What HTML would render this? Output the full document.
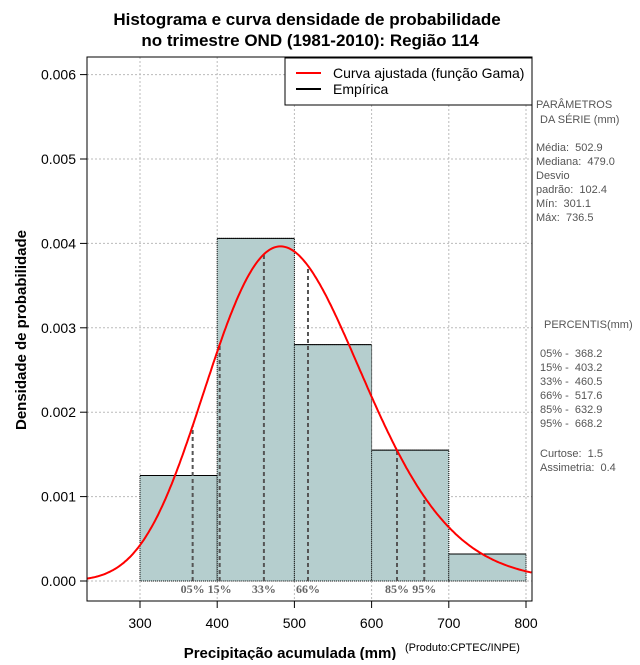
<!DOCTYPE html>
<html><head><meta charset="utf-8"><style>
body{margin:0;background:#fff;width:640px;height:660px;overflow:hidden}
svg{font-family:"Liberation Sans",sans-serif}
.pre text{white-space:pre}
</style></head><body>
<svg id="chart" width="640" height="660" viewBox="0 0 640 660" xmlns="http://www.w3.org/2000/svg">
<text x="307" y="25" text-anchor="middle" font-size="17" font-weight="bold">Histograma e curva densidade de probabilidade</text>
<text x="310" y="46" text-anchor="middle" font-size="17" font-weight="bold">no trimestre OND (1981-2010): Região 114</text>
<g id="grid"></g>
<g id="bars"></g>
<g id="pct"></g>
<g id="curve"></g>
<g id="axes"></g>
<rect x="87" y="57" width="445" height="544" fill="none" stroke="#000" stroke-width="1"/>
<g>
<rect x="285" y="58" width="247" height="47" fill="#fff" stroke="#000"/>
<line x1="296" y1="73" x2="321" y2="73" stroke="red" stroke-width="2"/>
<text x="333" y="78" font-size="14">Curva ajustada (função Gama)</text>
<line x1="296" y1="89" x2="321" y2="89" stroke="#000" stroke-width="2"/>
<text x="333" y="94" font-size="14">Empírica</text>
</g>
<g class="pre" font-size="11" fill="#555">
<text x="536" y="108">PARÂMETROS</text>
<text x="540" y="123">DA SÉRIE (mm)</text>
<text x="536" y="151">Média:  502.9</text>
<text x="536" y="165">Mediana:  479.0</text>
<text x="536" y="179">Desvio</text>
<text x="536" y="193">padrão:  102.4</text>
<text x="536" y="207">Mín:  301.1</text>
<text x="536" y="221">Máx:  736.5</text>
<text x="544" y="328">PERCENTIS(mm)</text>
<text x="540" y="357">05% -  368.2</text>
<text x="540" y="371">15% -  403.2</text>
<text x="540" y="385">33% -  460.5</text>
<text x="540" y="399">66% -  517.6</text>
<text x="540" y="413">85% -  632.9</text>
<text x="540" y="427">95% -  668.2</text>
<text x="540" y="457">Curtose:  1.5</text>
<text x="540" y="471">Assimetria:  0.4</text>
</g>
<text transform="translate(26,330) rotate(-90)" text-anchor="middle" font-size="15" font-weight="bold">Densidade de probabilidade</text>
<text x="290" y="658" text-anchor="middle" font-size="15" font-weight="bold">Precipitação acumulada (mm)</text>
<text x="405" y="651" font-size="11">(Produto:CPTEC/INPE)</text>
</svg>
<script>
const binEdges=[300,400,500,600,700,800];
const binDensity=[0.00125,0.00406,0.0028,0.00155,0.00032];
const xTicks=[300,400,500,600,700,800];
const yTicks=[0,0.001,0.002,0.003,0.004,0.005,0.006];
const yTickLabels=["0.000","0.001","0.002","0.003","0.004","0.005","0.006"];
const pctValues=[368.2,403.2,460.5,517.6,632.9,668.2];
const pctLabels=["05%","15%","33%","66%","85%","95%"];
const meanVal=502.9, sdVal=102.4;
const NS="http://www.w3.org/2000/svg";
const X=v=>140+(v-300)*0.772, Y=v=>581-v*84400;
function mk(p,t,a){const e=document.createElementNS(NS,t);for(const k in a)e.setAttribute(k,a[k]);document.getElementById(p).appendChild(e);return e;}
function lgamma(z){const g=[76.18009172947146,-86.50532032941677,24.01409824083091,-1.231739572450155,0.1208650973866179e-2,-0.5395239384953e-5];let x=z,y=z,t=x+5.5;t-=(x+0.5)*Math.log(t);let s=1.000000000190015;for(const c of g)s+=c/++y;return -t+Math.log(2.5066282746310005*s/x);}
const k=(meanVal/sdVal)**2, th=sdVal*sdVal/meanVal;
const pdf=x=>Math.exp((k-1)*Math.log(x)-x/th-lgamma(k)-k*Math.log(th));
xTicks.forEach(t=>{const l=mk('grid','line',{x1:X(t),x2:X(t),y1:57,y2:601,stroke:'#bbb','stroke-dasharray':'2,2'});


const tk=mk('axes','line',{x1:X(t),x2:X(t),y1:601,y2:608,stroke:'#000'});


const tx=mk('axes','text',{x:X(t),y:628,'text-anchor':'middle','font-size':14});tx.textContent=t;

});
yTicks.forEach((t,i)=>{const l=mk('grid','line',{x1:87,x2:532,y1:Y(t),y2:Y(t),stroke:'#bbb','stroke-dasharray':'2,2'});


const tk=mk('axes','line',{x1:80,x2:87,y1:Y(t),y2:Y(t),stroke:'#000'});


const tx=mk('axes','text',{x:76,y:Y(t)+5,'text-anchor':'end','font-size':14});tx.textContent=yTickLabels[i];

});
binDensity.forEach((d,i)=>{const r=mk('bars','rect',{x:X(binEdges[i]),y:Y(d),width:X(binEdges[i+1])-X(binEdges[i]),height:Y(0)-Y(d),fill:'#b5cece',stroke:'#000','stroke-dasharray':'1,1'});


const tp=mk('bars','line',{x1:X(binEdges[i]),x2:X(binEdges[i+1]),y1:Y(d),y2:Y(d),stroke:'#000'});

});
pctValues.forEach((v,i)=>{const l=mk('pct','line',{x1:X(v),x2:X(v),y1:Y(0),y2:Y(pdf(v)),stroke:'#555','stroke-width':2,'stroke-dasharray':'4,3'});


const t=mk('pct','text',{x:X(v),y:593,'text-anchor':'middle','font-size':12,'font-weight':'bold',fill:'#666','font-family':'Liberation Serif, serif'});t.textContent=pctLabels[i];

});
let d='';for(let x=231;x<=808;x+=2){d+=(d?'L':'M')+X(x).toFixed(1)+','+Y(pdf(x)).toFixed(1);}
const c=mk('curve','path',{d:d,fill:'none',stroke:'red','stroke-width':2});


</script>
</body></html>
